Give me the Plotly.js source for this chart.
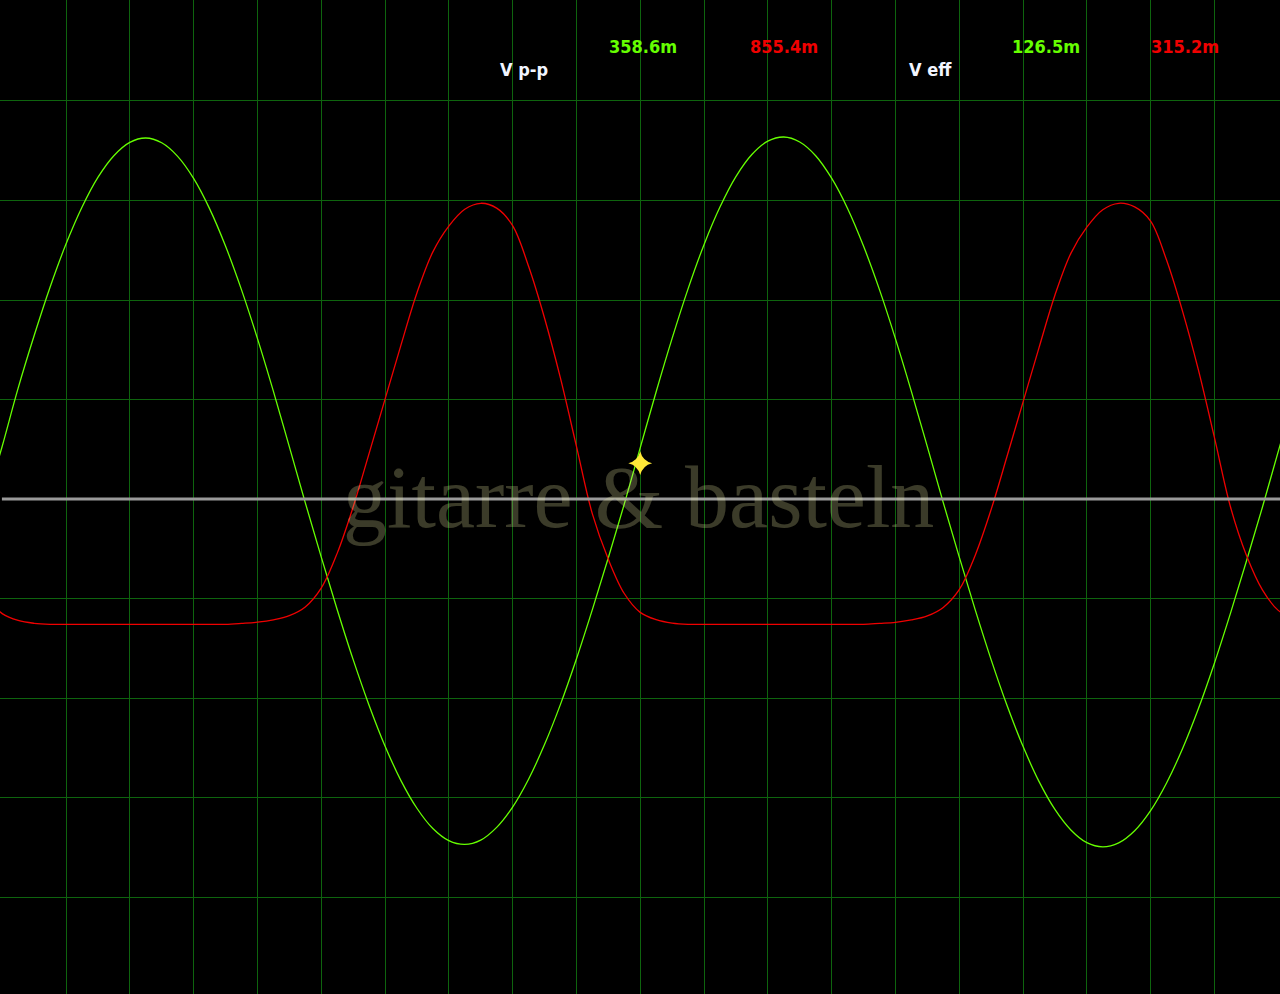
<!DOCTYPE html>
<html><head><meta charset="utf-8">
<script src="https://cdn.plot.ly/plotly-3.0.1.min.js"></script>
<style>html,body{margin:0;padding:0;background:#000;overflow:hidden}#chart{width:1280px;height:994px}</style>
</head><body><div id="chart"></div>
<script>
// time axis (ms), 0.1 ms per division
const timeMs = [-0.025, 0, 0.025, 0.05, 0.075, 0.1, 0.125, 0.15, 0.175, 0.2, 0.225, 0.25, 0.275, 0.3, 0.325, 0.35, 0.375, 0.4, 0.425, 0.45, 0.475,
  0.5, 0.525, 0.55, 0.575, 0.6, 0.625, 0.65, 0.675, 0.7, 0.725, 0.75, 0.775, 0.8, 0.825, 0.85, 0.875, 0.9, 0.925, 0.95, 0.975,
  1.0, 1.025, 1.05, 1.075, 1.1, 1.125, 1.15, 1.175, 1.2, 1.225, 1.25, 1.275, 1.3, 1.325, 1.35, 1.375, 1.4, 1.425, 1.45, 1.475,
  1.5, 1.525, 1.55, 1.575, 1.6, 1.625, 1.65, 1.675, 1.7, 1.725, 1.75, 1.775, 1.8, 1.825, 1.85, 1.875, 1.9, 1.925, 1.95, 1.975,
  2.0, 2.025];
// channel 1 (green), mV, 50 mV per division
const ch1Mv = [-1.5, 26.5, 55.7, 82.0, 106.4, 128.1, 146.6, 161.6, 172.5, 179.2, 181.4, 179.0, 172.2, 161.1, 145.9, 127.1, 105.2, 80.7, 54.2, 26.3,
  -1.8, -29.1, -55.5, -80.6, -103.6, -124.1, -141.5, -155.4, -165.6, -171.7, -173.6, -171.4, -165.0, -154.8, -140.8, -123.4, -103.2, -80.4, -55.6, -29.5,
  -2.6, 25.7, 53.9, 80.7, 105.6, 127.8, 146.7, 162.0, 173.1, 179.8, 181.9, 179.4, 172.5, 161.2, 146.0, 127.1, 105.2, 80.6, 54.1, 26.3,
  -1.8, -29.1, -55.6, -80.7, -103.8, -124.3, -141.9, -156.0, -166.3, -172.7, -174.8, -172.8, -166.7, -156.6, -142.7, -125.5, -105.3, -82.5, -57.6, -31.4,
  -4.4, 23.8, 51.8];
// channel 2 (red), mV, 200 mV per division
const ch2Mv = [-196.6, -230.4, -244.2, -249.9, -251.9, -251.9, -251.9, -251.9, -251.9, -251.9, -251.9, -251.9, -251.9, -251.9, -251.9, -251.9,
  -250.1, -247.7, -243.0, -234.6, -217.1, -179.3, -109.3, -16.3, 91.3, 200.2, 309.2, 414.1, 496.7, 548.6, 582.5, 594.4, 584.7, 549.4, 467.8, 363.8,
  242.8, 106.3, -30.0, -121.2, -190.0, -227.9, -242.6, -249.5, -251.9, -251.9, -251.9, -251.9, -251.9, -251.9, -251.9, -251.9, -251.9, -251.9, -251.9, -251.9,
  -250.1, -248.0, -243.2, -235.0, -217.9, -182.3, -113.4, -21.3, 85.8, 194.8, 303.7, 409.5, 493.7, 546.3, 581.5, 594.4, 587.1, 558.6, 480.2, 377.7,
  259.1, 123.8, -15.1, -112.6, -182.1, -223.9, -241.2];
const gridTimes = [0.1, 0.2, 0.3, 0.4, 0.5, 0.6, 0.7, 0.8, 0.9, 1.0, 1.1, 1.2, 1.3, 1.4, 1.5, 1.6, 1.7, 1.8, 1.9];
const gridCh1 = [-200, -150, -100, -50, 50, 100, 150, 200];
const cursorTime = [1.0];
const cursorMv = [18];
const readLabels = ['V p-p', 'V eff'];
const ch1Readings = ['358.6m', '126.5m'];
const ch2Readings = ['855.4m', '315.2m'];
const watermark = 'gitarre & basteln';

const GREEN = '#66ff00', RED = '#f00000', GRID = '#0e640e';
const traces = [
  {x: timeMs, y: ch2Mv, yaxis: 'y2', type: 'scatter', mode: 'lines', line: {color: RED, width: 1.3, shape: 'spline', smoothing: 1}, hoverinfo: 'skip'},
  {x: timeMs, y: ch1Mv, yaxis: 'y', type: 'scatter', mode: 'lines', line: {color: GREEN, width: 1.3, shape: 'spline', smoothing: 1}, hoverinfo: 'skip'},
  {x: cursorTime, y: cursorMv, yaxis: 'y', type: 'scatter', mode: 'markers', marker: {symbol: 'star-diamond', size: 17, color: '#ffe838', line: {width: 0}}, hoverinfo: 'skip'}
];

const tf = 'DejaVu Sans Condensed, DejaVu Sans, sans-serif';
const annotations = [
  {text: watermark, xref: 'paper', yref: 'paper', x: 0.499, y: 0.5, xanchor: 'center', yanchor: 'middle', showarrow: false,
   font: {family: 'Liberation Serif, Times New Roman, serif', size: 88, color: 'rgba(235,235,165,0.25)'}}
];
const labelX = [0.3891, 0.7087], ch1X = [0.4742, 0.7891], ch2X = [0.5844, 0.8977];
readLabels.forEach((t, i) => {
  annotations.push({text: '<b>' + t + '</b>', xref: 'paper', yref: 'paper', x: labelX[i], y: 0.9296, xanchor: 'left', yanchor: 'middle', showarrow: false, font: {family: tf, size: 18, color: '#f2f5ff'}});
  annotations.push({text: '<b>' + ch1Readings[i] + '</b>', xref: 'paper', yref: 'paper', x: ch1X[i], y: 0.953, xanchor: 'left', yanchor: 'middle', showarrow: false, font: {family: tf, size: 18, color: GREEN}});
  annotations.push({text: '<b>' + ch2Readings[i] + '</b>', xref: 'paper', yref: 'paper', x: ch2X[i], y: 0.953, xanchor: 'left', yanchor: 'middle', showarrow: false, font: {family: tf, size: 18, color: RED}});
});

const layout = {
  width: 1280, height: 994,
  margin: {l: 0, r: 0, t: 0, b: 0, pad: 0},
  paper_bgcolor: '#000', plot_bgcolor: '#000',
  showlegend: false,
  xaxis: {range: [-0.00345, 2.0028], tickmode: 'array', tickvals: gridTimes, showticklabels: false, ticks: '',
          showgrid: true, gridcolor: GRID, gridwidth: 1, zeroline: false, showline: false, fixedrange: true},
  yaxis: {range: [-248.74, 250.75], tickmode: 'array', tickvals: gridCh1, showticklabels: false, ticks: '',
          showgrid: true, gridcolor: GRID, gridwidth: 1, zeroline: false, showline: false, fixedrange: true},
  yaxis2: {range: [-995.0, 1003.0], overlaying: 'y', side: 'right', showgrid: false, zeroline: false,
           showticklabels: false, ticks: '', showline: false, fixedrange: true},
  shapes: [{type: 'line', layer: 'above', xref: 'paper', x0: 0.0015, x1: 1, yref: 'y', y0: 0, y1: 0,
            line: {color: '#9a9a9a', width: 3}}],
  annotations: annotations
};
Plotly.newPlot('chart', traces, layout, {displayModeBar: false, staticPlot: true});
</script>
</body></html>
